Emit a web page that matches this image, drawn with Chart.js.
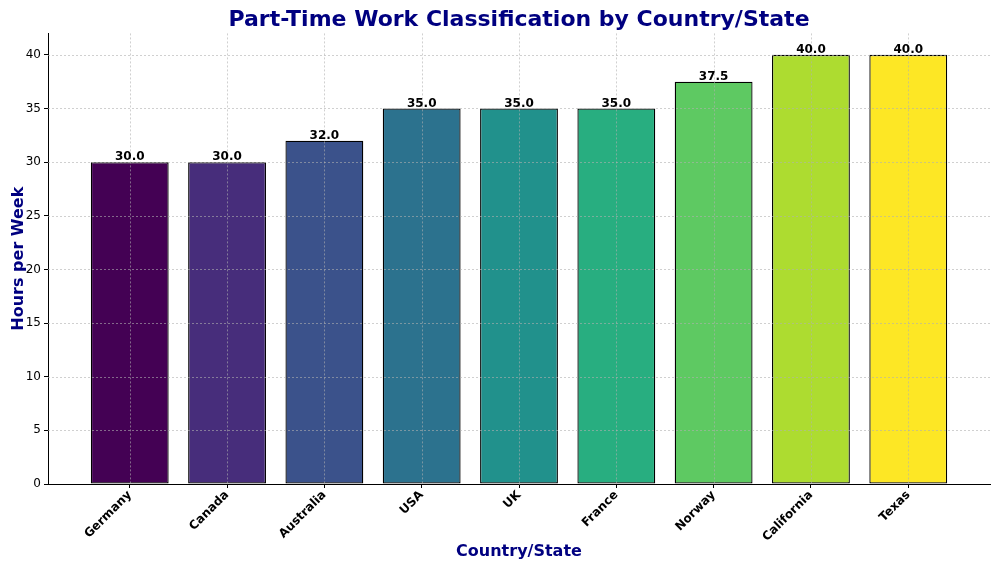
<!DOCTYPE html>
<html>
<head>
<meta charset="utf-8">
<script src="https://cdn.jsdelivr.net/npm/chart.js@4.4.1/dist/chart.umd.min.js"></script>
<style>
  html, body { margin: 0; padding: 0; background: #fff; }
  #wrap { width: 1000px; height: 571px; }
</style>
</head>
<body>
<div id="wrap"><canvas id="chart"></canvas></div>
<script>
// data
const places = ['Germany', 'Canada', 'Australia', 'USA', 'UK', 'France', 'Norway', 'California', 'Texas'];
const hours = [30.0, 30.0, 32.0, 35.0, 35.0, 35.0, 37.5, 40.0, 40.0];
const barColors = ['#440154', '#472d7b', '#3b528b', '#2c728e', '#21918c', '#28ae80', '#5ec962', '#addc30', '#fde725'];
const yTicks = [0, 5, 10, 15, 20, 25, 30, 35, 40];

const NAVY = '#000080';
const FONT = "'DejaVu Sans', sans-serif";

// dotted grid drawn over the bars, like matplotlib with grid on top
const gridOnTop = {
    id: 'gridOnTop',
    afterDatasetsDraw(chart) {
        const { ctx, chartArea: a, scales: { x, y } } = chart;
        ctx.save();
        ctx.setLineDash([2, 2]);
        ctx.strokeStyle = 'rgba(176,176,176,0.75)';
        ctx.lineWidth = 0.8;
        yTicks.forEach(v => {
            if (v === 0) return;   // spine covers it
            const py = Math.round(y.getPixelForValue(v)) + 0.5;
            ctx.beginPath(); ctx.moveTo(a.left, py); ctx.lineTo(a.right, py); ctx.stroke();
        });
        places.forEach((_, i) => {
            const px = Math.round(x.getPixelForValue(i)) + 0.5;
            ctx.beginPath(); ctx.moveTo(px, a.top); ctx.lineTo(px, a.bottom); ctx.stroke();
        });
        ctx.restore();
    },
};

// value labels above each bar
const barLabels = {
    id: 'barLabels',
    afterDatasetsDraw(chart) {
        const { ctx } = chart;
        const meta = chart.getDatasetMeta(0);
        ctx.save();
        ctx.fillStyle = '#000';
        ctx.font = 'bold 12px ' + FONT;
        ctx.textAlign = 'center';
        ctx.textBaseline = 'bottom';
        meta.data.forEach((bar, i) => {
            ctx.fillText(hours[i].toFixed(1), bar.x, bar.y + 1);
        });
        ctx.restore();
    },
};

new Chart(document.getElementById('chart'), {
    type: 'bar',
    data: {
        datasets: [{
            data: hours.map((h, i) => ({ x: i, y: h })),
            backgroundColor: barColors,
            borderColor: '#000',
            borderWidth: 1.3,
            borderSkipped: false,
            categoryPercentage: 0.8,
            barPercentage: 1.0,
        }],
    },
    options: {
        responsive: true,
        maintainAspectRatio: false,
        animation: false,
        devicePixelRatio: 1,
        layout: { padding: { top: 0, right: 10, bottom: 0, left: 0 } },
        plugins: {
            legend: { display: false },
            tooltip: { enabled: false },
            title: {
                display: true,
                text: 'Part-Time Work Classification by Country/State',
                color: NAVY,
                fullSize: false,
                font: { family: FONT, size: 22, weight: 'bold' },
                padding: { top: 7, bottom: 0 },
            },
        },
        scales: {
            x: {
                type: 'linear',
                min: -0.84,
                max: 8.84,
                offset: false,
                afterFit: s => { s.height = 87; },
                afterBuildTicks: s => { s.ticks = places.map((_, i) => ({ value: i })); },
                ticks: {
                    color: '#000',
                    font: { family: FONT, size: 12, weight: 'bold' },
                    minRotation: 45,
                    maxRotation: 45,
                    padding: 0,
                    callback: v => places[v],
                },
                grid: { offset: false, drawOnChartArea: false, drawTicks: true, tickLength: 4, tickColor: '#000' },
                border: { display: true, color: '#000', width: 1 },
                title: {
                    display: true,
                    text: 'Country/State',
                    color: NAVY,
                    font: { family: FONT, size: 16, weight: 'bold' },
                    padding: { top: 0, bottom: 10 },
                },
            },
            y: {
                min: 0,
                max: 42,
                afterFit: s => { s.width = 48; },
                afterBuildTicks: s => { s.ticks = yTicks.map(v => ({ value: v })); },
                ticks: {
                    color: '#000',
                    font: { family: FONT, size: 12 },
                    padding: 3,
                },
                grid: { drawOnChartArea: false, drawTicks: true, tickLength: 4, tickColor: '#000' },
                border: { display: true, color: '#000', width: 1 },
                title: {
                    display: true,
                    text: 'Hours per Week',
                    color: NAVY,
                    font: { family: FONT, size: 16, weight: 'bold' },
                    padding: { top: 9, bottom: 0 },
                },
            },
        },
    },
    plugins: [gridOnTop, barLabels],
});
</script>
</body>
</html>
